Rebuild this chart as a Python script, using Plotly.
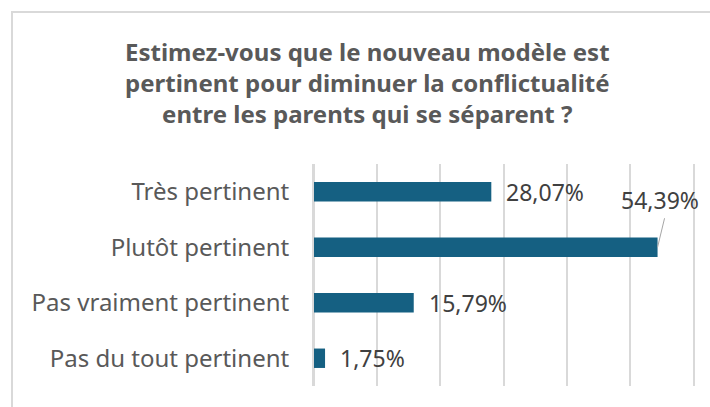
import plotly.graph_objects as go

categories = ["Très pertinent", "Plutôt pertinent", "Pas vraiment pertinent", "Pas du tout pertinent"]
values = [0.2807, 0.5439, 0.1579, 0.0175]
value_labels = ["28,07%", "54,39%", "15,79%", "1,75%"]
title_text = ("Estimez-vous que le nouveau modèle est<br>"
              "pertinent pour diminuer la conflictualité<br>"
              "entre les parents qui se séparent ?")

W, H = 710, 407
L, R, T, B = 314, 17, 164, 21
pw, ph = W - L - R, H - T - B
xmax = 0.6
px_per_x = pw / xmax
px_per_cat = ph / len(categories)

fig = go.Figure(go.Bar(
    x=values, y=categories, orientation="h",
    marker=dict(color="#156082", line=dict(width=0)),
    width=0.35, hoverinfo="skip",
))

lab_font = dict(family="Noto Sans", size=23, color="#404040")
annotations = []
shapes = []
for i, (c, v, t) in enumerate(zip(categories, values, value_labels)):
    if i == 1:
        annotations.append(dict(x=v, y=c, xref="x", yref="y", text=t, showarrow=False,
                                xanchor="center", yanchor="middle",
                                xshift=2, yshift=47, font=lab_font))
        shapes.append(dict(type="line", xref="x", yref="y",
                           x0=v, y0=i, x1=v + 7 / px_per_x, y1=i - 29 / px_per_cat,
                           line=dict(color="#a6a6a6", width=1)))
    else:
        annotations.append(dict(x=v, y=c, xref="x", yref="y", text=t, showarrow=False,
                                xanchor="left", xshift=13, font=lab_font))

annotations.append(dict(x=(367 - L) / pw, y=(H - B - 83) / ph, xref="paper", yref="paper",
                        text="<b>" + title_text + "</b>", showarrow=False,
                        xanchor="center", yanchor="middle", align="center",
                        font=dict(family="Noto Sans", size=24, color="#595959")))

shapes.append(dict(type="rect", xref="paper", yref="paper",
                   x0=(12 - L) / pw, x1=(W + 20 - L) / pw,
                   y0=(H - B - (H + 20)) / ph, y1=(H - B - 12) / ph,
                   line=dict(color="#d9d9d9", width=2), fillcolor="rgba(0,0,0,0)", layer="below"))

fig.update_layout(
    width=W, height=H,
    margin=dict(l=L, r=R, t=T, b=B),
    paper_bgcolor="white", plot_bgcolor="white",
    showlegend=False,
    annotations=annotations,
    shapes=shapes,
    xaxis=dict(range=[0, xmax], dtick=0.1, showticklabels=False, showgrid=True,
               gridcolor="#d9d9d9", gridwidth=2, zeroline=True, zerolinecolor="#d9d9d9",
               zerolinewidth=2, showline=False, fixedrange=True),
    yaxis=dict(categoryorder="array", categoryarray=categories, autorange="reversed",
               showgrid=False, showline=True, mirror=True, linecolor="#d9d9d9", linewidth=2,
               ticks="", ticklabelstandoff=18, fixedrange=True,
               tickfont=dict(family="Noto Sans", size=24, color="#595959")),
)

fig.write_html("out.html", config={"displayModeBar": False},
               post_script="document.body.style.margin='0px';document.body.style.overflow='hidden';")
